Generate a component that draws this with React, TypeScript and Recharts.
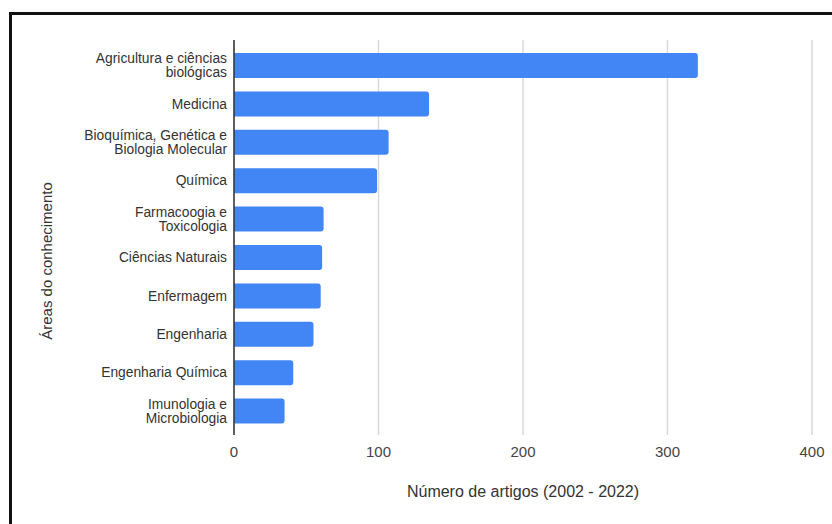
import React, { FC } from 'react';
import { BarChart, Bar, XAxis, YAxis, CartesianGrid } from 'recharts';

const areas = [
    'Agricultura e ciências\nbiológicas',
    'Medicina',
    'Bioquímica, Genética e\nBiologia Molecular',
    'Química',
    'Farmacoogia e\nToxicologia',
    'Ciências Naturais',
    'Enfermagem',
    'Engenharia',
    'Engenharia Química',
    'Imunologia e\nMicrobiologia',
];
const artigos = [321, 135, 107, 99, 62, 61, 60, 55, 41, 35];
const xTicks = [0, 100, 200, 300, 400];

const data = areas.map((area, i) => ({ area, artigos: artigos[i] }));

const FONT = 'Arial, "Liberation Sans", sans-serif';

// splits the two-line area names and right-aligns them next to the axis
const AreaTick: FC<any> = ({ y, payload }) => {
    const lines = String(payload.value).split('\n');
    const lineH = 13.5;
    const startDy = -((lines.length - 1) * lineH) / 2;
    return (
        <text x={227} y={y} textAnchor="end" fill="#333" fontSize={13.8} fontFamily={FONT}>
            {lines.map((line, i) => (
                <tspan key={i} x={227} dy={i === 0 ? startDy + 5 : lineH}>
                    {line}
                </tspan>
            ))}
        </text>
    );
};

// vertical axis title, a bit below the plot's middle like the original
const AreaTitle: FC<any> = () => (
    <text
        x={46}
        y={261}
        transform="rotate(-90, 46, 261)"
        textAnchor="middle"
        dominantBaseline="central"
        fill="#333"
        fontSize={15}
        fontFamily={FONT}
    >
        Áreas do conhecimento
    </text>
);

const App: FC = () => {
    return (
        <div style={{ position: 'absolute', left: 0, top: 0, width: 832, height: 524, background: '#fff' }}>
            <div
                style={{
                    position: 'absolute',
                    left: 9,
                    top: 12,
                    right: 0,
                    bottom: 0,
                    borderLeft: '3px solid #111',
                    borderTop: '3px solid #111',
                }}
            />
            <div style={{ position: 'absolute', left: 0, top: 0 }}>
                <BarChart
                    width={832}
                    height={524}
                    data={data}
                    layout="vertical"
                    margin={{ top: 40, right: 20, bottom: 0, left: 0 }}
                    barCategoryGap={0}
                >
                    <CartesianGrid horizontal={false} stroke="#d9d9d9" strokeWidth={1.5} />
                    <XAxis
                        type="number"
                        domain={[0, 400]}
                        ticks={xTicks}
                        axisLine={false}
                        tickLine={false}
                        tick={{ fontSize: 15, fill: '#444', fontFamily: FONT }}
                        tickMargin={5}
                        height={89}
                        label={{
                            value: 'Número de artigos (2002 - 2022)',
                            position: 'insideTop',
                            offset: 51,
                            fill: '#333',
                            fontSize: 16,
                            fontFamily: FONT,
                        }}
                    />
                    <YAxis
                        type="category"
                        dataKey="area"
                        width={234}
                        padding={{ top: 6, bottom: 5 }}
                        axisLine={{ stroke: '#333', strokeWidth: 1.5 }}
                        tickLine={false}
                        tick={<AreaTick />}
                        interval={0}
                        label={<AreaTitle />}
                    />
                    <Bar
                        dataKey="artigos"
                        fill="#4285f4"
                        barSize={25}
                        radius={[0, 3, 3, 0]}
                        isAnimationActive={false}
                    />
                </BarChart>
            </div>
        </div>
    );
};

export default App;
